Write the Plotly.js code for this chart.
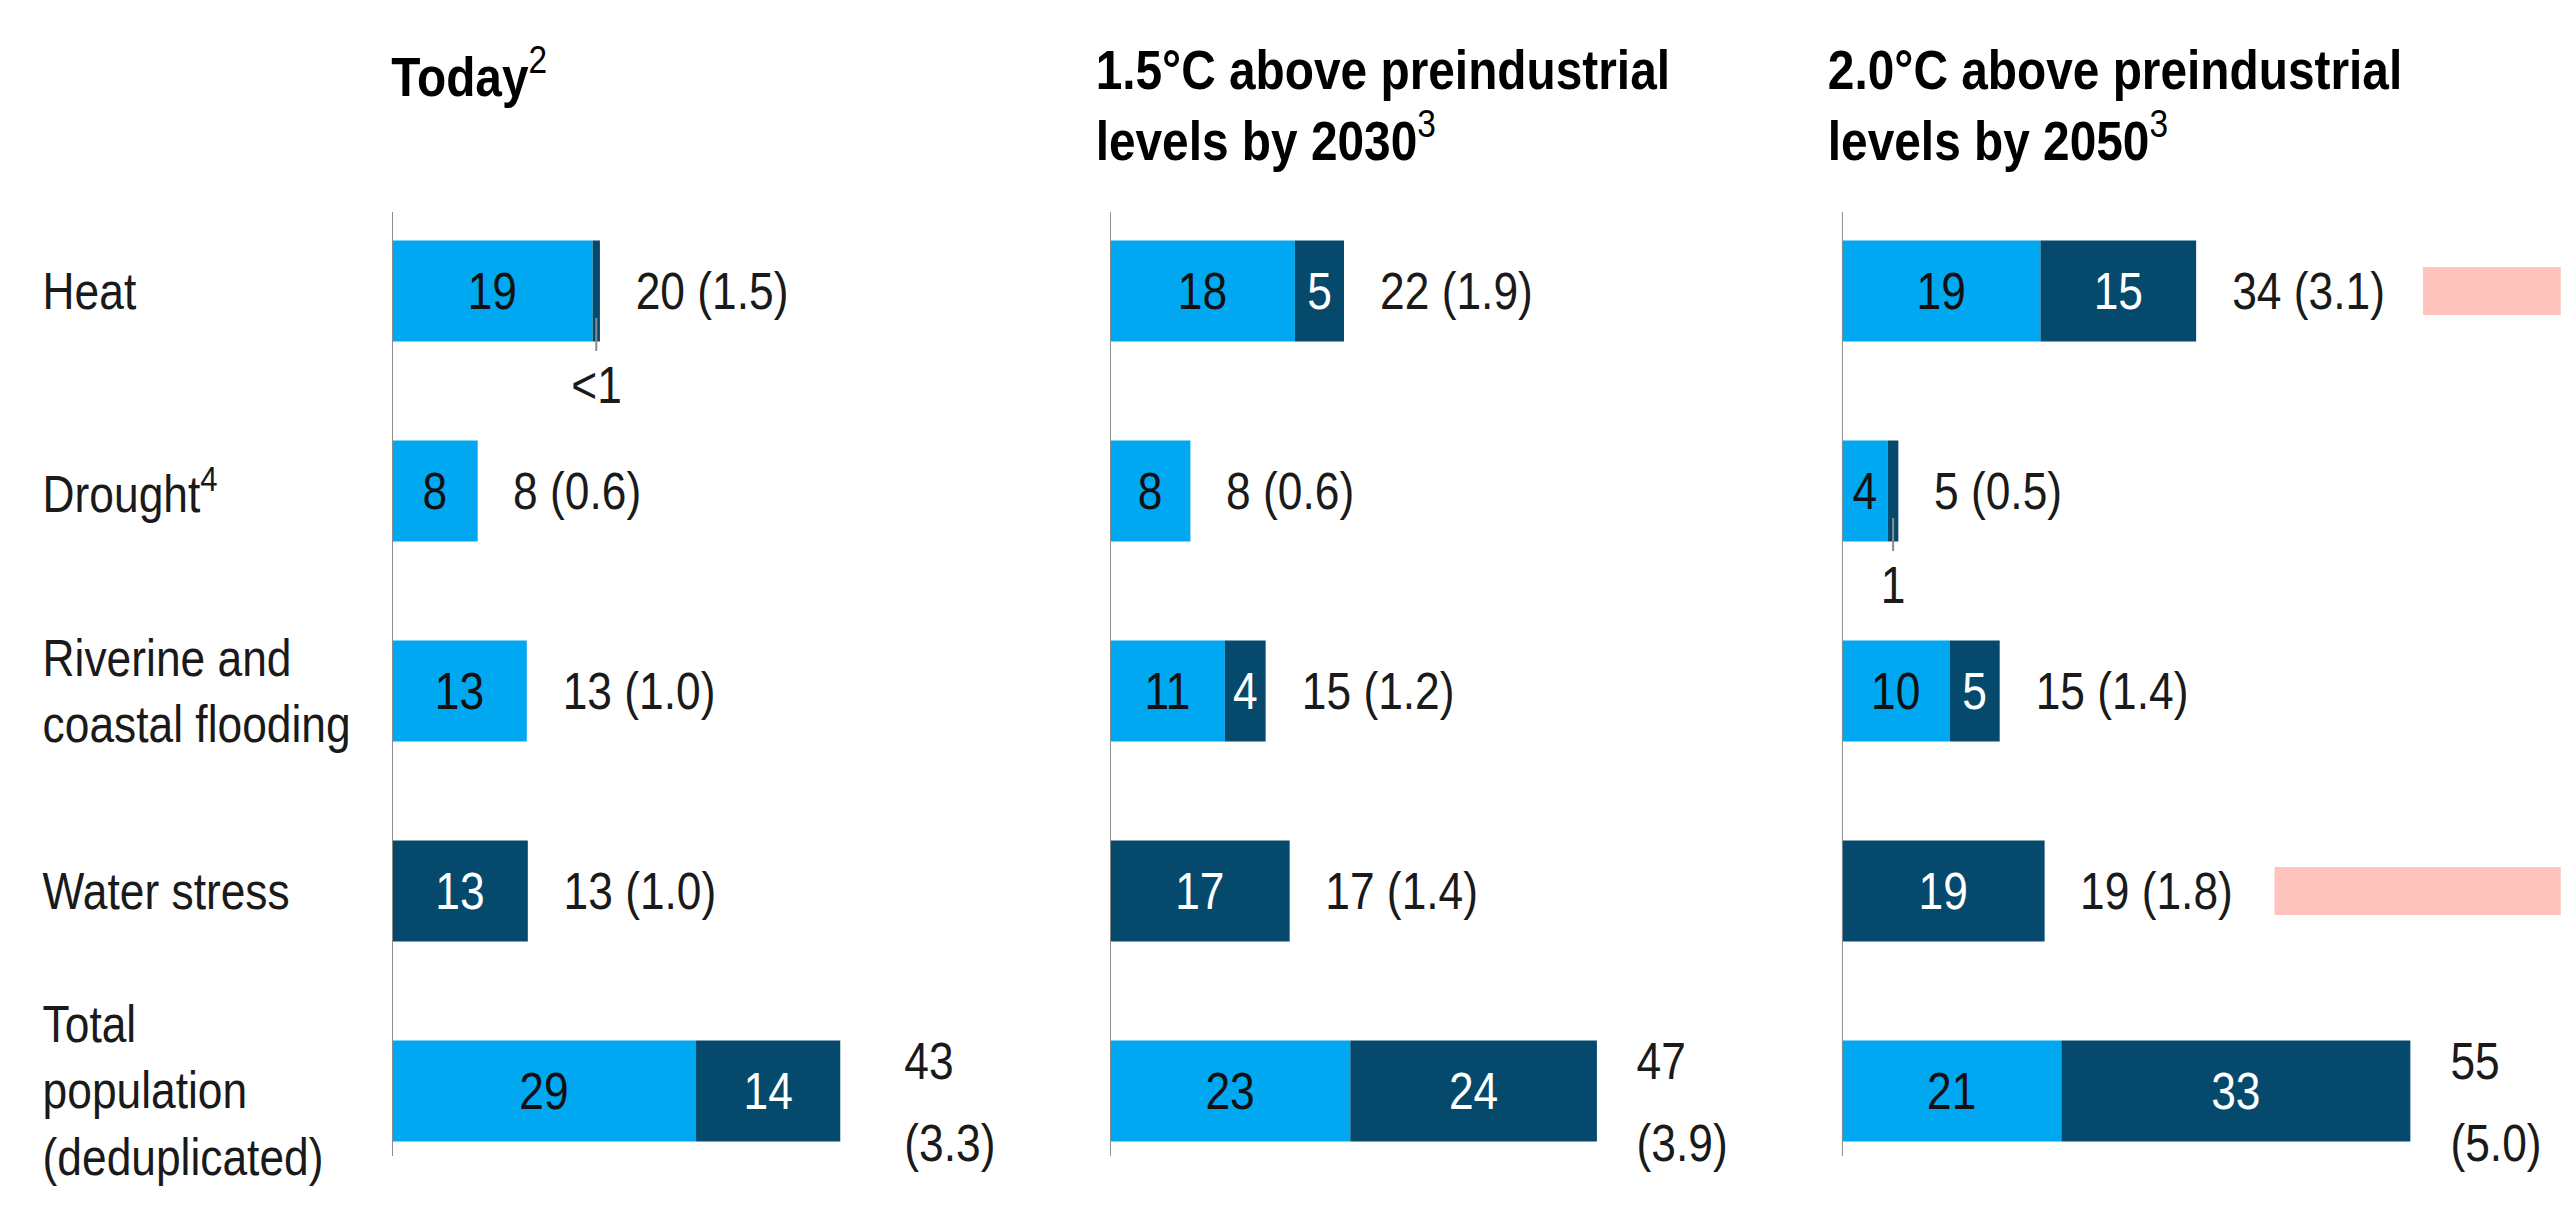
<!DOCTYPE html>
<html>
<head>
<meta charset="utf-8">
<script src="https://cdn.plot.ly/plotly-3.0.1.min.js"></script>
<style>
html,body{margin:0;padding:0;background:#fff;overflow:hidden;}
#wrap{width:2561px;height:1210px;overflow:hidden;position:relative;}
#chart{position:absolute;left:0;top:0;transform-origin:0 0;}
</style>
</head>
<body>
<div id="wrap"><div id="chart"></div></div>
<script>
// ---- data ----
const categories = ["Heat", "Drought<sup>4</sup>", "Riverine and<br>coastal flooding", "Water stress", "Total<br>population<br>(deduplicated)"];
const panelTitles = ["<b>Today</b><sup>2</sup>", "<b>1.5°C above preindustrial</b><br><b>levels by 2030</b><sup>3</sup>", "<b>2.0°C above preindustrial</b><br><b>levels by 2050</b><sup>3</sup>"];

const todayLight = [19.2, 8.2, 12.9, 0, 29.1];
const todayDark  = [0.7, 0, 0, 13, 13.8];
const todayTotals = ["20 (1.5)", "8 (0.6)", "13 (1.0)", "13 (1.0)", "43 (3.3)"];

const c15Light = [17.7, 7.7, 11, 0, 23];
const c15Dark  = [4.7, 0, 3.9, 17.2, 23.6];
const c15Totals = ["22 (1.9)", "8 (0.6)", "15 (1.2)", "17 (1.4)", "47 (3.9)"];

const c20Light = [19, 4.4, 10.3, 0, 21];
const c20Dark  = [14.9, 1.0, 4.8, 19.4, 33.4];
const c20Totals = ["34 (3.1)", "5 (0.5)", "15 (1.4)", "19 (1.8)", "55 (5.0)"];

// small segments labelled below the bar
const calloutPanel = [0, 2];
const calloutRow = [0, 1];
const calloutText = ["<1", "1"];

// partially visible highlight bars at the right edge (panel 3 scale)
const pinkBase = [55.6, null, null, 41.4, null];
const pinkLength = [40, null, null, 55, null];

// ---- styling ----
const LIGHT = "#00a8f1";
const DARK = "#054a6d";
const PINK = "#ffc4bd";
const FONT = "'Liberation Sans', Arial, sans-serif";
const FS = 51;
const TFS = 55;
const K = 1.15;               // horizontal condensing factor
const W = 2561, H = 1210;
const LW = Math.round(W * K); // layout width before condensing
const PXU = 10.45;            // final pixels per unit
const domains = [[392 / W, 1050 / W], [1110 / W, 1790 / W], [1842 / W, 1]];
const totalShift = [62, 38, 38];
const axisIds = ["x", "x2", "x3"];
const lights = [todayLight, c15Light, c20Light];
const darks = [todayDark, c15Dark, c20Dark];
const totals = [todayTotals, c15Totals, c20Totals];
const rows = categories.map((_, i) => i);
const BARW = 0.505;

const el = document.getElementById("chart");
el.style.width = LW + "px";
el.style.height = H + "px";
el.style.transform = "scaleX(" + (1 / K) + ")";

const data = [];
const annotations = [];
const shapes = [];
const layout = {
  width: LW, height: H,
  margin: {l: 0, r: 0, t: 0, b: 0},
  paper_bgcolor: "#fff", plot_bgcolor: "rgba(0,0,0,0)",
  barmode: "overlay",
  showlegend: false,
  font: {family: FONT, size: FS, color: "#1a1a1a"},
  yaxis: {range: [4.595, -1.455], showgrid: false, zeroline: false, showticklabels: false, ticks: "", fixedrange: true, anchor: "x"},
  annotations: annotations,
  shapes: shapes
};

for (let p = 0; p < 3; p++) {
  const ax = axisIds[p];
  const axName = p === 0 ? "xaxis" : "xaxis" + (p + 1);
  const widthPx = (domains[p][1] - domains[p][0]) * W;
  layout[axName] = {domain: domains[p], range: [0, widthPx / PXU], showgrid: false, zeroline: false,
    showticklabels: false, ticks: "", showline: false, anchor: "y", fixedrange: true};
  const L = lights[p], D = darks[p];
  data.push({
    type: "bar", orientation: "h", xaxis: ax, yaxis: "y",
    y: rows, x: L, base: rows.map(() => 0), width: BARW,
    marker: {color: LIGHT, line: {width: 0}},
    text: L.map(v => String(Math.round(v))),
    textposition: L.map(v => v >= 2 ? "inside" : "none"),
    insidetextanchor: "middle", textangle: 0, constraintext: "none",
    insidetextfont: {family: FONT, size: FS, color: "#111"},
    hoverinfo: "skip"
  });
  data.push({
    type: "bar", orientation: "h", xaxis: ax, yaxis: "y",
    y: rows, x: D, base: L, width: BARW,
    marker: {color: DARK, line: {width: 0}},
    text: D.map(v => String(Math.round(v))),
    textposition: D.map(v => v >= 2 ? "inside" : "none"),
    insidetextanchor: "middle", textangle: 0, constraintext: "none",
    insidetextfont: {family: FONT, size: FS, color: "#fff"},
    hoverinfo: "skip"
  });
  // axis line
  shapes.push({type: "line", xref: ax, yref: "y", x0: 0, x1: 0, y0: -0.395, y1: 4.325,
    line: {color: "#8c8c8c", width: 2 * K}});
  // totals
  rows.forEach(i => {
    const end = L[i] + D[i];
    const t = totals[p][i];
    if (i === rows.length - 1) {
      const parts = t.split(" ");
      annotations.push({xref: ax, yref: "y", x: end, y: i - 0.15, text: parts[0], showarrow: false,
        xanchor: "left", yanchor: "middle", xshift: totalShift[p] * K, font: {family: FONT, size: FS, color: "#1a1a1a"}});
      annotations.push({xref: ax, yref: "y", x: end, y: i + 0.26, text: parts[1], showarrow: false,
        xanchor: "left", yanchor: "middle", xshift: totalShift[p] * K, font: {family: FONT, size: FS, color: "#1a1a1a"}});
    } else {
      annotations.push({xref: ax, yref: "y", x: end, y: i, text: t, showarrow: false,
        xanchor: "left", yanchor: "middle", xshift: 34 * K, font: {family: FONT, size: FS, color: "#1a1a1a"}});
    }
  });
  // panel title
  const twoLine = panelTitles[p].indexOf("<br>") >= 0;
  annotations.push({xref: "paper", yref: "paper", x: p === 0 ? 390 / W : (domains[p][0] * W - 16) / W,
    y: 1 - (twoLine ? 106 : 73) / H, text: panelTitles[p], showarrow: false,
    xanchor: "left", yanchor: "middle", align: "left",
    font: {family: FONT, size: TFS, color: "#000"}});
}

// callouts for tiny segments
calloutPanel.forEach((p, k) => {
  const r = calloutRow[k];
  const xc = lights[p][r] + darks[p][r] / 2;
  shapes.push({type: "line", xref: axisIds[p], yref: "y", x0: xc, x1: xc, y0: r + 0.135, y1: r + 0.30,
    line: {color: "#8c8c8c", width: 2 * K}});
  annotations.push({xref: axisIds[p], yref: "y", x: xc, y: r + 0.47, text: calloutText[k], showarrow: false,
    xanchor: "center", yanchor: "middle", font: {family: FONT, size: FS, color: "#1a1a1a"}});
});

// pink highlight bars
data.push({
  type: "bar", orientation: "h", xaxis: "x3", yaxis: "y",
  y: rows, x: pinkLength, base: pinkBase, width: 0.24,
  marker: {color: PINK, line: {width: 0}}, hoverinfo: "skip"
});

// category labels
categories.forEach((c, i) => {
  annotations.push({xref: "paper", yref: "y", x: 41 / W, y: i, text: c, showarrow: false,
    xanchor: "left", yanchor: "middle", align: "left",
    font: {family: FONT, size: FS, color: "#1a1a1a"}});
});

Plotly.newPlot("chart", data, layout, {displayModeBar: false, staticPlot: true});
</script>
</body>
</html>
